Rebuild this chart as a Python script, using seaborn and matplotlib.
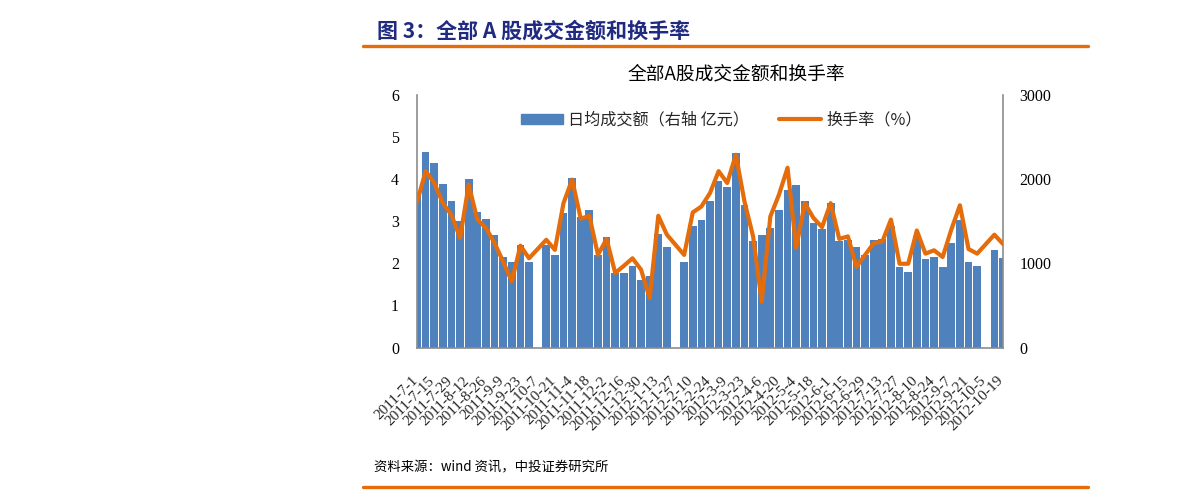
import numpy as np
import pandas as pd
import matplotlib
matplotlib.use("Agg")
import matplotlib.pyplot as plt
import matplotlib.transforms as mtransforms
from matplotlib.patches import Patch
from matplotlib.lines import Line2D
import seaborn as sns

# ---------------- data ----------------
dates = pd.date_range("2011-07-01", "2012-10-19", freq="7D")
categories = [f"{d.year}-{d.month}-{d.day}" for d in dates]

# 日均成交额（亿元, right axis）
turnover_amt = [1850, 2320, 2190, 1945, 1735, 1505, 2005, 1605, 1530, 1340,
                1080, 1010, 1220, 1020, np.nan, 1220, 1100, 1600, 2015, 1550,
                1630, 1100, 1310, 885, 890, 970, 805, 845, 1350, 1200,
                np.nan, 1010, 1440, 1510, 1745, 1980, 1905, 2310, 1695, 1260,
                1340, 1420, 1630, 1875, 1925, 1735, 1485, 1405, 1715, 1260,
                1280, 1200, 1100, 1280, 1290, 1445, 960, 902, 1320, 1050,
                1080, 955, 1240, 1520, 1020, 970, np.nan, 1160, 1060]

# 换手率（%, left axis）
turnover_rate = [3.45, 4.19, 3.91, 3.43, 3.15, 2.60, 3.87, 3.04, 2.84, 2.48,
                 2.04, 1.57, 2.42, 2.12, np.nan, 2.56, 2.32, 3.43, 3.99, 3.06,
                 3.13, 2.20, 2.58, 1.77, 1.94, 2.12, 1.85, 1.17, 3.13, 2.68,
                 np.nan, 2.20, 3.21, 3.35, 3.67, 4.19, 3.91, 4.58, 3.47, 2.64,
                 1.09, 3.11, 3.63, 4.27, 2.37, 3.43, 3.08, 2.86, 3.43, 2.58,
                 2.64, 1.92, 2.20, 2.48, 2.52, 3.04, 1.99, 1.99, 2.78, 2.23,
                 2.31, 2.15, 2.80, 3.38, 2.34, 2.23, np.nan, 2.68, 2.46]

left_ticks = [0, 1, 2, 3, 4, 5, 6]
right_ticks = [0, 1000, 2000, 3000]

header = "图 3：全部 A 股成交金额和换手率"
title = "全部A股成交金额和换手率"
source = "资料来源：wind 资讯，中投证券研究所"
bar_label = "日均成交额（右轴 亿元）"
line_label = "换手率（%）"

# ---------------- style ----------------
sns.set_theme(style="white")
CJK = ["Noto Sans CJK SC", "DejaVu Sans"]
SERIF = ["Liberation Serif", "DejaVu Serif"]
plt.rcParams["font.family"] = CJK

BLUE = "#4F81BD"
ORANGE = "#E46C0A"
NAVY = "#1F2A80"
GRAY = "#8C8C8C"

W, H = 1191, 500
fig = plt.figure(figsize=(W / 100, H / 100), dpi=100)
fig.patch.set_facecolor("white")

def fx(px):
    return px / W

def fy(py):
    return 1 - py / H

ax = fig.add_axes([fx(417), fy(347.5), fx(1003) - fx(417), fy(95) - fy(347.5)])

df_bar = pd.DataFrame({"date": categories, "amount": turnover_amt})
sns.barplot(data=df_bar, x="date", y="amount", order=categories, color=BLUE,
            saturation=1, width=0.9, ax=ax, linewidth=0, edgecolor=BLUE)
ax.set_ylim(0, 3000)
ax.set_xlim(0, len(categories) - 1)
ax.set_xlabel("")
ax.set_ylabel("")

ax2 = ax.twinx()
df_line = pd.DataFrame({"pos": np.arange(len(categories)), "rate": turnover_rate}).dropna()
sns.lineplot(data=df_line, x="pos", y="rate", color=ORANGE, linewidth=3.0,
             ax=ax2, estimator=None, sort=False)
ax2.set_ylim(0, 6)
ax2.set_xlim(0, len(categories) - 1)
ax2.set_xlabel("")
ax2.set_ylabel("")

# axis sides: bars axis on right, line axis on left
ax.yaxis.tick_right()
ax2.yaxis.tick_left()
ax.set_yticks(right_ticks)
ax.set_yticklabels([str(t) for t in right_ticks], family=SERIF, fontsize=11.5)
ax2.set_yticks(left_ticks)
ax2.set_yticklabels([str(t) for t in left_ticks], family=SERIF, fontsize=11.5)
ax.tick_params(axis="y", length=0, pad=12, colors="black")
ax2.tick_params(axis="y", length=0, pad=13, colors="black")

for s in ["top", "left"]:
    ax.spines[s].set_visible(False)
for s in ["right", "bottom"]:
    ax.spines[s].set_color(GRAY)
    ax.spines[s].set_linewidth(1.2)
for s in ["top", "right", "bottom"]:
    ax2.spines[s].set_visible(False)
ax2.spines["left"].set_color(GRAY)
ax2.spines["left"].set_linewidth(1.2)
ax.grid(False)
ax2.grid(False)

# x tick labels: every other week
tick_pos = list(range(0, len(categories), 2))
ax.set_xticks(tick_pos)
ax.set_xticklabels([categories[i] for i in tick_pos], family=SERIF, fontsize=11,
                   rotation=45, ha="right", va="top", rotation_mode="anchor")
ax.tick_params(axis="x", length=0, pad=19)
offset = mtransforms.ScaledTranslation(-6 / 100, 0, fig.dpi_scale_trans)
for lab in ax.get_xticklabels():
    lab.set_transform(lab.get_transform() + offset)

# legend
handles = [Patch(facecolor=BLUE, edgecolor=BLUE),
           Line2D([0], [0], color=ORANGE, linewidth=3.0)]
fig.legend(handles, [bar_label, line_label], loc="center left",
           bbox_to_anchor=(fx(521), fy(120)), ncol=2, frameon=False,
           fontsize=11.6, handlelength=2.6, handleheight=0.55, handletextpad=0.3,
           columnspacing=1.9, borderpad=0, borderaxespad=0)

# header, title, source, rules
fig.text(fx(377), fy(31), header, fontsize=15.1, fontweight="bold", color=NAVY,
         ha="left", va="center")
fig.add_artist(Line2D([fx(363), fx(1088)], [fy(45.5), fy(45.5)], color=ORANGE,
                      linewidth=2.4, transform=fig.transFigure))
fig.text(fx(736), fy(74), title, fontsize=13.5, color="black", ha="center", va="center")
fig.text(fx(374), fy(467), source, fontsize=9.6, color="black", ha="left", va="center")
fig.add_artist(Line2D([fx(363), fx(1088)], [fy(487), fy(487)], color=ORANGE,
                      linewidth=2.4, transform=fig.transFigure))

fig.savefig("out.png", dpi=100, facecolor="white")
